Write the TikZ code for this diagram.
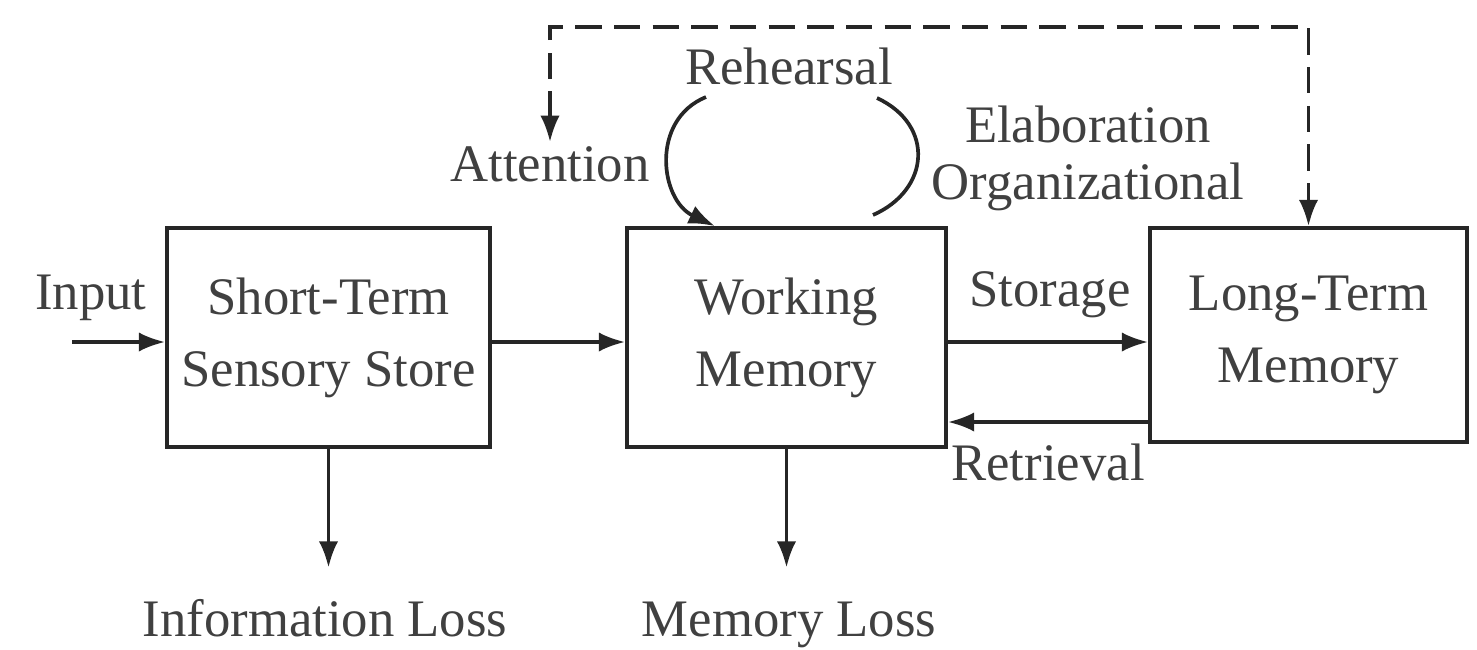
\documentclass[tikz,border=0pt]{standalone}
\usepackage{fontspec}
\setmainfont{Liberation Serif}
\usetikzlibrary{arrows.meta}
\tikzset{box/.style={draw=black!85, line width=1.05pt, align=center, text=black!75, font=\fontsize{15}{20.5}\selectfont}}
\tikzset{lbl/.style={text=black!75, inner sep=1pt, align=center, font=\fontsize{15}{16.2}\selectfont}}
\tikzset{conn/.style={draw=black!85, line width=1.05pt, -{Latex[length=7.5pt,width=5.5pt]}}}
\tikzset{feedback/.style={draw=black!85, line width=1.05pt, dash pattern=on 7.5pt off 3.5pt, {Latex[length=7.5pt,width=5.5pt]}-{Latex[length=7.5pt,width=5.5pt]}}}

\begin{document}
\begin{tikzpicture}
  \useasboundingbox (0,0) rectangle (14.77,-6.49);
  % the three stores
  \node[box, minimum width=3.23cm, minimum height=2.19cm] (sst) at (3.285,-3.375) {Short-Term\\Sensory Store};
  \node[box, minimum width=3.19cm, minimum height=2.19cm] (wm) at (7.865,-3.375) {Working\\Memory};
  \node[box, minimum width=3.17cm, minimum height=2.14cm] (ltm) at (13.085,-3.35) {Long-Term\\Memory};
  % labels
  \node[lbl] (input) at (0.91,-2.98) {Input};
  \node[lbl] (storage) at (10.5,-2.95) {Storage};
  \node[lbl] (retrieval) at (10.48,-4.62) {Retrieval};
  \node[lbl, anchor=base] (iloss) at (3.25,-6.36) {Information Loss};
  \node[lbl, anchor=base] (mloss) at (7.89,-6.36) {Memory Loss};
  \node[lbl] (reh) at (7.89,-0.66) {Rehearsal};
  \node[lbl] (attn) at (5.5,-1.64) {Attention};
  \node[lbl] (elab) at (10.88,-1.58) {Elaboration\\Organizational};
  \coordinate (in) at (0.72,-3.42);
  \coordinate (ret) at (0,-4.22);
  \coordinate (top) at (9.3,-0.27);
  \coordinate (rs) at (7.06,-0.97);
  \coordinate (es) at (8.77,-0.98);
  \coordinate (ee) at (8.73,-2.15);
  % flow
  \draw[conn] (in) -- (in -| sst.west);
  \draw[conn] (sst.east |- in) -- (wm.west |- in);
  \draw[conn] (wm.east |- in) -- (ltm.west |- in);
  \draw[conn] (ltm.west |- ret) -- (wm.east |- ret);
  \draw[conn, shorten >=2.7mm] (sst.south) -- (sst.south |- iloss.north);
  \draw[conn, shorten >=2.7mm] (wm.south) -- (wm.south |- iloss.north);
  % rehearsal loops
  \draw[conn] (rs) .. controls (6.5,-1.2) and (6.6,-2.0) .. ([xshift=-0.715cm]wm.north);
  \draw[draw=black!85, line width=1.05pt] (es) .. controls (9.35,-1.25) and (9.3,-1.9) .. (ee);
  % attention feedback
  \draw[feedback] (attn.north) |- (top) -| (ltm.north);
\end{tikzpicture}
\end{document}
